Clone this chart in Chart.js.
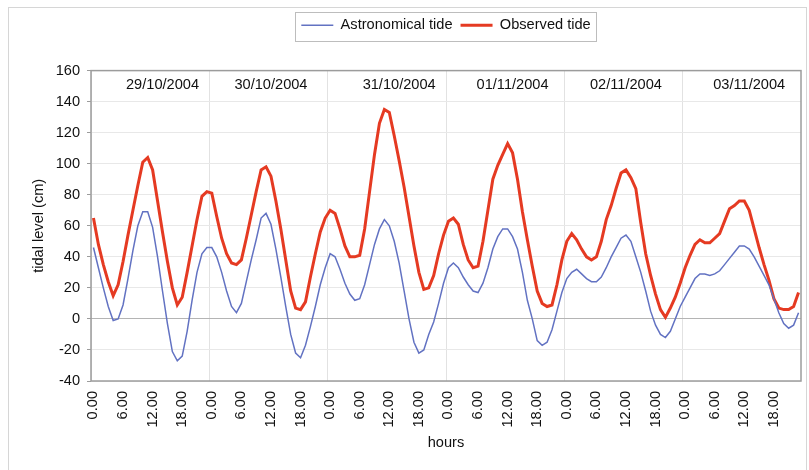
<!DOCTYPE html>
<html>
<head>
<meta charset="utf-8">
<title>Tidal level</title>
<script src="https://cdn.jsdelivr.net/npm/chart.js@4.4.0/dist/chart.umd.min.js"></script>
<style>
    html, body { margin: 0; padding: 0; background: #fff; }
    #tide_chart { display: block; }
</style>
</head>
<body>
<canvas id="tide_chart" width="809" height="470"></canvas>
<script>
// days shown above the curves, and the hour (category index) each one sits over
var days = ['29/10/2004', '30/10/2004', '31/10/2004', '01/11/2004', '02/11/2004', '03/11/2004'];
var dayLabelHour = [14, 36, 62, 85, 108, 133];

// y axis
var levelMin = -40;
var levelMax = 160;
var levelStep = 20;

// hourly values, one row per day (cm)
var astronomical = [
    46, 33, 20, 8, -1, 0, 9, 26, 44, 60, 69, 69, 59, 40, 18, -3, -21, -27, -24, -8, 12, 30, 42, 46,
    46, 40, 30, 18, 8, 4, 10, 24, 38, 51, 65, 68, 61, 45, 27, 8, -10, -22, -25, -17, -5, 8, 22, 33,
    42, 40, 32, 23, 16, 12, 13, 22, 35, 48, 58, 64, 60, 50, 36, 18, 0, -15, -22, -20, -10, -2, 10, 23,
    33, 36, 33, 27, 22, 18, 17, 23, 33, 45, 53, 58, 58, 53, 45, 30, 12, 0, -14, -17, -15, -7, 5, 17,
    26, 30, 32, 29, 26, 24, 24, 27, 33, 40, 46, 52, 54, 50, 40, 30, 18, 5, -4, -10, -12, -8, 0, 8,
    14, 20, 26, 29, 29, 28, 29, 31, 35, 39, 43, 47, 47, 45, 40, 34, 28, 22, 13, 4, -3, -6, -4, 4
];
var observed = [
    65, 48, 35, 24, 15, 22, 37, 54, 70, 86, 101, 104, 96, 76, 56, 37, 20, 9, 14, 30, 47, 64, 79, 82,
    81, 66, 52, 42, 36, 35, 38, 52, 67, 82, 96, 98, 92, 76, 58, 38, 18, 7, 6, 11, 27, 42, 56, 65,
    70, 68, 58, 47, 40, 40, 41, 58, 82, 106, 126, 135, 133, 118, 102, 85, 66, 47, 30, 19, 20, 28, 42, 54,
    63, 65, 61, 48, 38, 33, 34, 50, 70, 90, 99, 106, 113, 107, 90, 69, 51, 34, 18, 10, 8, 9, 22, 38,
    50, 55, 51, 45, 40, 38, 40, 50, 64, 73, 84, 94, 96, 91, 84, 62, 42, 28, 16, 6, 1, 7, 14, 23,
    33, 41, 48, 51, 49, 49, 52, 55, 63, 71, 73, 76, 76, 70, 58, 46, 35, 25, 13, 7, 6, 6, 8, 17
];

var hourNames = [];
for (var h = 0; h < 24; h++) {
    hourNames.push(h + '.00');
}
var labels = [];
days.forEach(function () {
    labels = labels.concat(hourNames);
});

var FONT = '"Liberation Sans", Arial, sans-serif';
var SIZE = 14.6;
var TEXT = '#111';

// push the plot down below the legend, like the excel sheet
var legendGap = {
    id: 'legendGap',
    beforeInit: function (chart) {
        var fit = chart.legend.fit;
        chart.legend.fit = function () {
            fit.bind(chart.legend)();
            this.height += 28;
        };
    }
};

var decorations = {
    id: 'decorations',
    beforeDraw: function (chart) {
        var ctx = chart.ctx;
        ctx.save();
        ctx.fillStyle = '#fff';
        ctx.fillRect(0, 0, chart.width, chart.height);
        ctx.restore();
    },
    afterDraw: function (chart) {
        var ctx = chart.ctx;
        var a = chart.chartArea;
        var x = chart.scales.x;
        var y = chart.scales.y;
        ctx.save();

        // plot frame
        ctx.strokeStyle = '#9c9c9c';
        ctx.lineWidth = 1.5;
        ctx.strokeRect(a.left, a.top, a.right - a.left, a.bottom - a.top);

        // outer frame
        ctx.strokeStyle = '#d6d6d6';
        ctx.lineWidth = 1;
        ctx.strokeRect(8.5, 7.5, chart.width - 11, chart.height - 3);

        // legend box
        var boxes = chart.legend.legendHitBoxes;
        if (boxes && boxes.length) {
            var first = boxes[0], last = boxes[boxes.length - 1];
            ctx.strokeStyle = '#bdbdbd';
            ctx.lineWidth = 1;
            ctx.strokeRect(Math.round(first.left - 6) + 0.5, Math.round(first.top - 6) + 0.5,
                Math.round(last.left + last.width - first.left + 12), Math.round(first.height + 14));
        }

        // day labels
        ctx.font = SIZE + 'px ' + FONT;
        ctx.fillStyle = TEXT;
        ctx.textAlign = 'center';
        ctx.textBaseline = 'middle';
        days.forEach(function (d, i) {
            ctx.fillText(d, x.getPixelForValue(dayLabelHour[i]), y.getPixelForValue(151));
        });
        ctx.restore();
    }
};

new Chart(document.getElementById('tide_chart').getContext('2d'), {
    type: 'line',
    data: {
        labels: labels,
        datasets: [{
            label: 'Astronomical tide',
            data: astronomical,
            borderColor: '#6272c2',
            backgroundColor: '#6272c2',
            borderWidth: 1.5,
            pointRadius: 0,
            tension: 0,
            fill: false
        }, {
            label: 'Observed tide',
            data: observed,
            borderColor: '#e53a22',
            backgroundColor: '#e53a22',
            borderWidth: 3,
            pointRadius: 0,
            tension: 0,
            fill: false
        }]
    },
    options: {
        responsive: false,
        animation: false,
        layout: { padding: { top: 10, left: 8, right: 8, bottom: 4 } },
        plugins: {
            legend: {
                position: 'top',
                fullSize: false,
                labels: {
                    usePointStyle: true,
                    pointStyle: 'line',
                    pointStyleWidth: 32,
                    padding: 8,
                    color: TEXT,
                    font: { family: FONT, size: SIZE }
                }
            },
            tooltip: { enabled: false }
        },
        scales: {
            x: {
                offset: true,
                border: { display: false },
                grid: {
                    offset: true,
                    drawTicks: false,
                    color: function (c) {
                        return c.index % 24 === 0 ? '#e2e2e2' : 'rgba(0,0,0,0)';
                    }
                },
                ticks: {
                    autoSkip: false,
                    maxRotation: 90,
                    minRotation: 90,
                    padding: 10,
                    color: TEXT,
                    font: { family: FONT, size: SIZE },
                    callback: function (value, index) {
                        return index % 6 === 0 ? this.getLabelForValue(value) : '';
                    }
                },
                title: {
                    display: true,
                    text: 'hours',
                    color: TEXT,
                    font: { family: FONT, size: SIZE },
                    padding: { top: 0, bottom: 14 }
                },
                afterFit: function (scale) {
                    scale.height = 85;
                    scale.paddingLeft = 0;
                    scale.paddingRight = 0;
                }
            },
            y: {
                min: levelMin,
                max: levelMax,
                border: { display: false },
                grid: {
                    tickLength: 4,
                    tickColor: '#9c9c9c',
                    color: function (c) {
                        return c.tick && c.tick.value === 0 ? '#b4b4b4' : '#e8e8e8';
                    }
                },
                ticks: {
                    stepSize: levelStep,
                    padding: 7,
                    color: TEXT,
                    font: { family: FONT, size: SIZE }
                },
                title: {
                    display: true,
                    text: 'tidal level (cm)',
                    color: TEXT,
                    font: { family: FONT, size: SIZE },
                    padding: { top: 22, bottom: 0 }
                },
                afterFit: function (scale) {
                    scale.width = 83;
                }
            }
        }
    },
    plugins: [legendGap, decorations]
});
</script>
</body>
</html>
